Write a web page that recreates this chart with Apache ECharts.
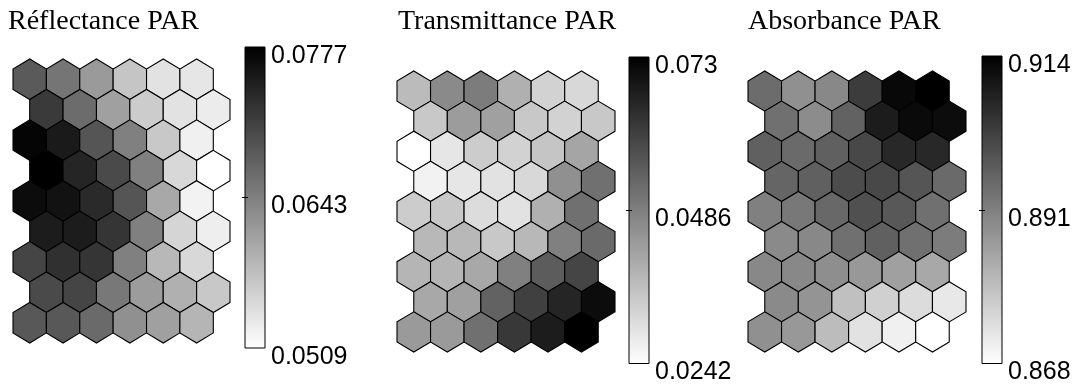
<!DOCTYPE html>
<html>
<head>
<meta charset="utf-8">
<script src="https://cdn.jsdelivr.net/npm/echarts@6/dist/echarts.min.js"></script>
<style>
  html, body { margin: 0; padding: 0; background: #fff; }
  #chart { width: 1087px; height: 385px; }
</style>
</head>
<body>
<div id="chart"></div>
<script>
// Self-organizing map planes, 9 rows x 6 hexagonal cells (top row first)
const titles = ['Réflectance PAR', 'Transmittance PAR', 'Absorbance PAR'];

const reflectance = [
  [0.0682, 0.0654, 0.0615, 0.0570, 0.0539, 0.0535],
  [0.0716, 0.0663, 0.0609, 0.0563, 0.0539, 0.0529],
  [0.0772, 0.0750, 0.0688, 0.0642, 0.0567, 0.0525],
  [0.0777, 0.0738, 0.0699, 0.0642, 0.0550, 0.0509],
  [0.0764, 0.0758, 0.0733, 0.0688, 0.0600, 0.0523],
  [0.0748, 0.0748, 0.0721, 0.0642, 0.0553, 0.0527],
  [0.0704, 0.0727, 0.0721, 0.0642, 0.0584, 0.0550],
  [0.0699, 0.0704, 0.0651, 0.0613, 0.0592, 0.0567],
  [0.0685, 0.0685, 0.0666, 0.0626, 0.0609, 0.0587]
];

const transmittance = [
  [0.0372, 0.0466, 0.0493, 0.0393, 0.0328, 0.0317],
  [0.0347, 0.0431, 0.0424, 0.0347, 0.0328, 0.0347],
  [0.0242, 0.0290, 0.0340, 0.0328, 0.0353, 0.0414],
  [0.0267, 0.0290, 0.0298, 0.0317, 0.0454, 0.0516],
  [0.0340, 0.0347, 0.0309, 0.0298, 0.0393, 0.0516],
  [0.0378, 0.0378, 0.0347, 0.0378, 0.0485, 0.0527],
  [0.0384, 0.0384, 0.0408, 0.0485, 0.0554, 0.0598],
  [0.0408, 0.0424, 0.0542, 0.0608, 0.0659, 0.0707],
  [0.0435, 0.0435, 0.0516, 0.0623, 0.0676, 0.0730]
];

const absorbance = [
  [0.8945, 0.8880, 0.8895, 0.9032, 0.9126, 0.9140],
  [0.8938, 0.8887, 0.8963, 0.9089, 0.9122, 0.9118],
  [0.8967, 0.8949, 0.8967, 0.9010, 0.9068, 0.9068],
  [0.8958, 0.8967, 0.9003, 0.9010, 0.8987, 0.8949],
  [0.8909, 0.8924, 0.8952, 0.8996, 0.8981, 0.8938],
  [0.8891, 0.8895, 0.8938, 0.8967, 0.8938, 0.8916],
  [0.8895, 0.8895, 0.8884, 0.8866, 0.8851, 0.8837],
  [0.8891, 0.8873, 0.8794, 0.8765, 0.8743, 0.8722],
  [0.8880, 0.8866, 0.8801, 0.8732, 0.8707, 0.8680]
];

// colorbar tick labels: min, middle, max
const ticksReflectance = ['0.0509', '0.0643', '0.0777'];
const ticksTransmittance = ['0.0242', '0.0486', '0.073'];
const ticksAbsorbance = ['0.868', '0.891', '0.914'];

const planes = [reflectance, transmittance, absorbance];
const tickSets = [ticksReflectance, ticksTransmittance, ticksAbsorbance];

// page layout (pixels)
const layout = [
  { title: [8, 8],   hex: { left: 13,  top: 59, width: 217, height: 284 }, bar: { left: 245, top: 47, width: 20, height: 301 } },
  { title: [398, 8], hex: { left: 397, top: 71, width: 218, height: 281 }, bar: { left: 629, top: 57, width: 20, height: 310 } },
  { title: [748, 8], hex: { left: 748, top: 71, width: 218, height: 281 }, bar: { left: 982, top: 56, width: 20, height: 311 } }
];

const SQ3 = Math.sqrt(3);
const RAD = 1 / SQ3;           // hexagon circumradius for unit width
const NROWS = 9, NCOLS = 6;

function hexItem(params, api) {
  const c = api.value(0), r = api.value(1);
  const cx = c + (r % 2) * 0.5;
  const cy = r * SQ3 / 2;
  const pts = [];
  for (let k = 0; k < 6; k++) {
    const a = Math.PI / 6 + k * Math.PI / 3;
    pts.push(api.coord([cx + RAD * Math.cos(a), cy + RAD * Math.sin(a)]));
  }
  return {
    type: 'polygon',
    shape: { points: pts },
    style: { fill: api.visual('color'), stroke: '#000', lineWidth: 1.1 }
  };
}

function barItem(params, api) {
  const p1 = api.coord([0, api.value(1)]);
  const p2 = api.coord([1, api.value(0)]);
  return {
    type: 'rect',
    shape: { x: p1[0], y: p1[1], width: p2[0] - p1[0], height: p2[1] - p1[1] },
    style: {
      fill: new echarts.graphic.LinearGradient(0, 0, 0, 1, [
        { offset: 0, color: '#000' }, { offset: 1, color: '#fff' }
      ]),
      stroke: '#000', lineWidth: 1
    }
  };
}

const option = {
  backgroundColor: '#fff',
  animation: false,
  title: [], grid: [], xAxis: [], yAxis: [], series: [], visualMap: []
};

planes.forEach((plane, i) => {
  const L = layout[i];
  const tickVals = tickSets[i].map(parseFloat);
  const lo = tickVals[0], hi = tickVals[2];

  option.title.push({
    text: titles[i], left: L.title[0], top: L.title[1], padding: 0,
    textStyle: { fontFamily: 'Liberation Serif', fontSize: 28, fontWeight: 'normal', color: '#000' }
  });

  // hexagon plane
  option.grid.push(Object.assign({}, L.hex));
  const gHex = option.grid.length - 1;
  const xHex = option.xAxis.length;
  option.xAxis.push({ type: 'value', gridIndex: gHex, min: -0.5, max: NCOLS, show: false });
  const yHex = option.yAxis.length;
  option.yAxis.push({ type: 'value', gridIndex: gHex, min: -RAD, max: (NROWS - 1) * SQ3 / 2 + RAD, inverse: true, show: false });
  const data = [];
  plane.forEach((row, r) => row.forEach((v, c) => data.push([c, r, v])));
  option.series.push({
    type: 'custom', name: titles[i], xAxisIndex: xHex, yAxisIndex: yHex,
    renderItem: hexItem, data: data, encode: { x: 0, y: 1 }, clip: false
  });
  option.visualMap.push({
    type: 'continuous', show: false, seriesIndex: option.series.length - 1,
    dimension: 2, min: lo, max: hi, inRange: { color: ['#ffffff', '#000000'] }
  });

  // colorbar
  option.grid.push(Object.assign({}, L.bar));
  const gBar = option.grid.length - 1;
  const xBar = option.xAxis.length;
  option.xAxis.push({ type: 'value', gridIndex: gBar, min: 0, max: 1, show: false });
  const yBar = option.yAxis.length;
  option.yAxis.push({
    type: 'value', gridIndex: gBar, min: lo, max: hi, position: 'right', z: 5,
    axisLine: { show: false }, splitLine: { show: false },
    axisTick: { show: true, inside: true, length: 3, customValues: [tickVals[1]], lineStyle: { color: '#000' } },
    axisLabel: {
      show: true, customValues: tickVals, margin: 6,
      verticalAlign: 'top', lineHeight: 18,
      fontFamily: 'Liberation Sans', fontSize: 25, color: '#000',
      formatter: (v) => {
        let best = 0;
        tickVals.forEach((t, k) => { if (Math.abs(t - v) < Math.abs(tickVals[best] - v)) best = k; });
        return tickSets[i][best];
      }
    }
  });
  option.yAxis.push({
    type: 'value', gridIndex: gBar, min: lo, max: hi, position: 'left', z: 5,
    axisLine: { show: false }, splitLine: { show: false }, axisLabel: { show: false },
    axisTick: { show: true, inside: true, length: 3, customValues: [tickVals[1]], lineStyle: { color: '#000' } }
  });
  option.series.push({
    type: 'custom', xAxisIndex: xBar, yAxisIndex: yBar, renderItem: barItem, z: 1,
    data: [[lo, hi]], encode: { y: [0, 1] }, clip: false, silent: true
  });
});

const chart = echarts.init(document.getElementById('chart'), null, { renderer: 'canvas' });
chart.setOption(option);
</script>
</body>
</html>
